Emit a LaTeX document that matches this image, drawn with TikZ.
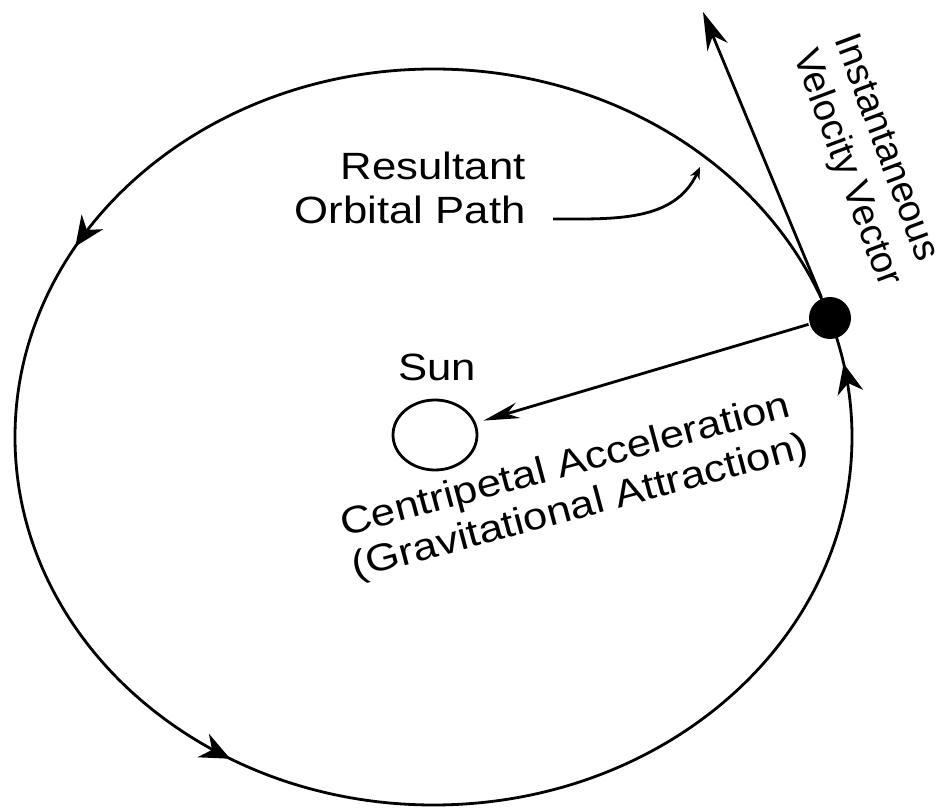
\documentclass[tikz,border=0pt]{standalone}
\usepackage{fontspec}
\setmainfont[FakeStretch=1.15]{Liberation Sans}
\newfontfamily\narrowsans{Liberation Sans}
\usetikzlibrary{arrows.meta,decorations.markings,shapes.geometric}
\tikzset{
	label/.style={inner sep=0pt, font=\fontsize{38}{44}\selectfont},
	orbit/.style={postaction={decorate}, decoration={markings,
		mark=at position 0.03 with {\arrow{Stealth[length=30pt,width=26pt]}},
		mark=at position 0.418 with {\arrow{Stealth[length=30pt,width=26pt]}},
		mark=at position 0.665 with {\arrow{Stealth[length=30pt,width=26pt]}}}},
	sunbody/.style={draw, ellipse, inner sep=0pt, minimum width=84pt, minimum height=70pt},
	planetbody/.style={circle, fill=black, inner sep=0pt, minimum size=42pt}
}
\begin{document}
\begin{tikzpicture}[x=1pt, y=1pt, line width=2.8pt]
		\useasboundingbox (0, 0) rectangle (946, 807);
		\draw[orbit] (433.5, 370) ellipse [x radius=418.5, y radius=368];
		\node[sunbody] (sun) at (435, 372) {};
		\node[planetbody] (planet) at (830, 489) {};
		\coordinate (vtip) at (703, 795);
		\coordinate (ptrstart) at (553, 588);
		\coordinate (ptrend) at (700, 640);
		\node[label] (sunname) at (437, 440) {Sun};
		\node[label, align=right, anchor=east] (resultant) at (527, 619) {Resultant\\Orbital Path};
		\node[label, align=left, rotate=-69.5] (velocity) at (866, 646) {\narrowsans Instantaneous\\\narrowsans Velocity Vector};
		\node[label, align=left, rotate=15] (centripetal) at (575, 320) {Centripetal Acceleration\\(Gravitational Attraction)};
		\draw[-{Stealth[length=38pt,width=22pt]}] (planet) -- (vtip);
		\draw[-{Stealth[length=36pt,width=16pt]}, shorten >=8pt] (planet) -- (sun);
		\draw[-{Stealth[length=12pt,width=10pt]}] (ptrstart) to[out=0, in=-115] (ptrend);
	\end{tikzpicture}
\end{document}
